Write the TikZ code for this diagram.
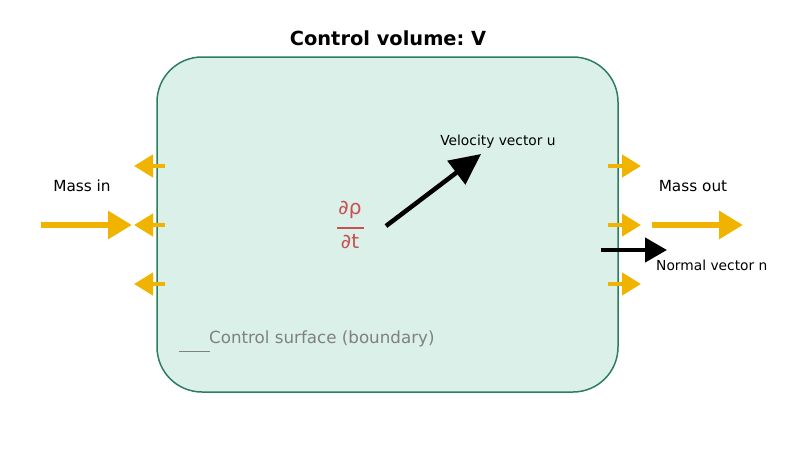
\documentclass[tikz,border=0pt]{standalone}
\usepackage{fontspec}
\setmainfont{DejaVu Sans}
\usetikzlibrary{arrows.meta}
\definecolor{cvfill}{RGB}{218,240,232}
\definecolor{cvline}{RGB}{46,125,94}
\definecolor{flux}{RGB}{240,180,0}
\definecolor{rate}{RGB}{200,80,80}
\definecolor{note}{RGB}{128,128,128}
\frenchspacing

\begin{document}
\begin{tikzpicture}[x=1pt,y=-1pt,every node/.style={inner sep=0pt},
  smallflux/.style={flux,line width=4.5pt,-{Triangle[length=19pt,width=22pt]}},
  bigflux/.style={flux,line width=6pt,-{Triangle[length=24pt,width=27pt]}},
  vec/.style={black,line width=4.5pt,-{Triangle[length=22pt,width=24pt]}}]
  \useasboundingbox (0,0) rectangle (800,450);
  \draw[cvline,fill=cvfill,line width=1.5pt,rounded corners=45pt] (157,57) rectangle (618,392);

  \node[anchor=base] (title) at (388,45) {\fontsize{19.4}{23}\selectfont\bfseries Control volume: V};

  % flux through the boundary
  \foreach \y in {166,225,284}{
    \coordinate (inS\y) at (165,\y);
    \coordinate (inE\y) at (134,\y);
    \coordinate (outS\y) at (608,\y);
    \coordinate (outE\y) at (641,\y);
    \draw[smallflux] (inS\y) -- (inE\y);
    \draw[smallflux] (outS\y) -- (outE\y);
  }

  \coordinate (mi1) at (41,225);
  \coordinate (mi2) at (132,225);
  \coordinate (mo1) at (652,225);
  \coordinate (mo2) at (743,225);
  \draw[bigflux] (mi1) -- (mi2);
  \draw[bigflux] (mo1) -- (mo2);
  \node[anchor=base] (massin) at (82,191) {\fontsize{15.3}{18}\selectfont Mass in};
  \node[anchor=base] (massout) at (693,191) {\fontsize{15.3}{18}\selectfont Mass out};

  % vectors
  \coordinate (n1) at (601,250);
  \coordinate (n2) at (667,250);
  \draw[vec] (n1) -- (n2);
  \node[anchor=base west] (normal) at (656,270) {\fontsize{13.8}{16}\selectfont Normal vector n};

  \coordinate (u1) at (386,226);
  \coordinate (u2) at (481,154);
  \draw[vec,-{Triangle[length=31pt,width=29pt]}] (u1) -- (u2);
  \node[anchor=base] (velocity) at (498,145) {\fontsize{13.8}{16}\selectfont Velocity vector u};

  % storage term
  \node[rate,anchor=base] (num) at (350,214) {\fontsize{20}{24}\selectfont ∂ρ};
  \node[rate,anchor=base] (den) at (350,248) {\fontsize{20}{24}\selectfont ∂t};
  \draw[rate,line width=1.6pt] (337,228) -- (364,228);

  \coordinate (k1) at (179,351);
  \coordinate (k2) at (210,351);
  \draw[note,line width=0.8pt] (k1) -- (k2);
  \node[note,anchor=base west] (surface) at (209,343.5) {\fontsize{16.7}{20}\selectfont Control surface (boundary)};
\end{tikzpicture}
\end{document}
